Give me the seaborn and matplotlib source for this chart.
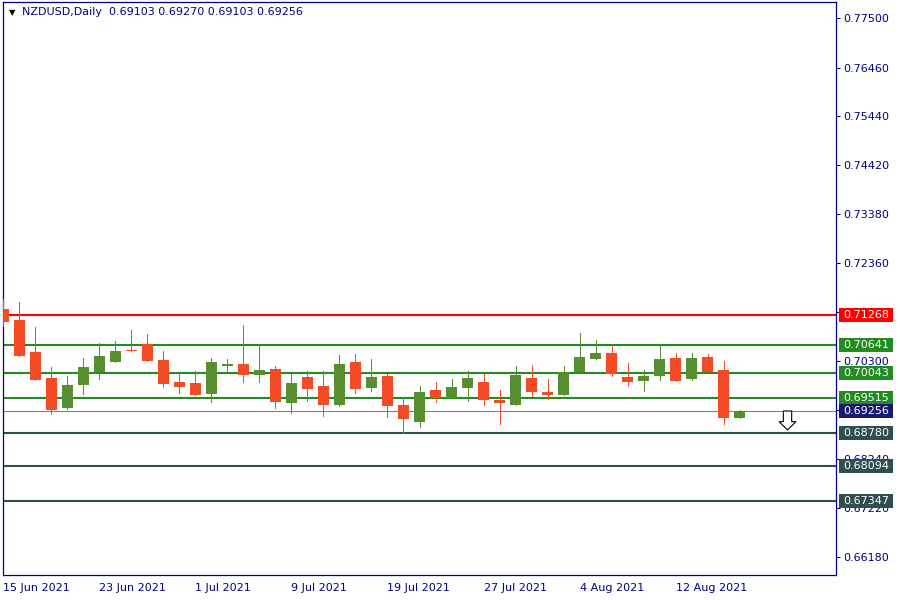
import matplotlib
matplotlib.use('Agg')
import matplotlib.pyplot as plt
from matplotlib.patches import Rectangle
import pandas as pd
import seaborn as sns

# daily NZDUSD candles, 15 Jun - 18 Aug 2021 (weekdays)
dates = pd.bdate_range('2021-06-15', '2021-08-18')

opens = [0.71389, 0.71158, 0.70486, 0.69940, 0.69317, 0.69799, 0.70060, 0.70282, 0.70534, 0.70654,
         0.70318, 0.69856, 0.69835, 0.69610, 0.70198, 0.70234, 0.70009, 0.70129, 0.69421, 0.69961,
         0.69772, 0.69379, 0.70276, 0.69736, 0.69982, 0.69373, 0.69022, 0.69688, 0.69526, 0.69736,
         0.69856, 0.69478, 0.69379, 0.69940, 0.69646, 0.69589, 0.70066, 0.70339, 0.70465, 0.69961,
         0.69883, 0.69988, 0.70360, 0.69925, 0.70381, 0.70108, 0.69103]
highs = [0.71599, 0.71536, 0.71011, 0.70171, 0.69982, 0.70360, 0.70675, 0.70717, 0.70948, 0.70864,
         0.70507, 0.70066, 0.70087, 0.70360, 0.70339, 0.71059, 0.70633, 0.70192, 0.70045, 0.70087,
         0.70087, 0.70423, 0.70444, 0.70339, 0.70024, 0.69535, 0.69772, 0.69856, 0.69919, 0.70087,
         0.70045, 0.69688, 0.70192, 0.70213, 0.69919, 0.70192, 0.70885, 0.70738, 0.70633, 0.70255,
         0.70108, 0.70633, 0.70465, 0.70465, 0.70444, 0.70297, 0.69270]
lows = [0.71038, 0.70400, 0.69895, 0.69190, 0.69296, 0.69611, 0.69925, 0.70280, 0.70510, 0.70300,
        0.69757, 0.69631, 0.69580, 0.69442, 0.70066, 0.69862, 0.69862, 0.69316, 0.69211, 0.69463,
        0.69148, 0.69358, 0.69631, 0.69673, 0.69127, 0.68791, 0.68917, 0.69442, 0.69520, 0.69463,
        0.69379, 0.68981, 0.69370, 0.69568, 0.69505, 0.69580, 0.70060, 0.70330, 0.69988, 0.69778,
        0.69673, 0.69904, 0.69880, 0.69904, 0.70070, 0.68981, 0.69103]
closes = [0.71122, 0.70409, 0.69904, 0.69274, 0.69793, 0.70171, 0.70402, 0.70507, 0.70513, 0.70303,
          0.69820, 0.69757, 0.69589, 0.70276, 0.70234, 0.70009, 0.70108, 0.69442, 0.69835, 0.69715,
          0.69379, 0.70234, 0.69715, 0.69961, 0.69358, 0.69085, 0.69646, 0.69526, 0.69751, 0.69940,
          0.69484, 0.69421, 0.70003, 0.69652, 0.69589, 0.70066, 0.70381, 0.70465, 0.70030, 0.69862,
          0.69982, 0.70339, 0.69883, 0.70360, 0.70072, 0.69106, 0.69256]

# horizontal levels drawn on the chart
levels = [0.71268, 0.70641, 0.70043, 0.69515, 0.69256, 0.68780, 0.68094, 0.67347]
line_colors = ['#ff0000', '#228b22', '#228b22', '#228b22', '#808080', '#2f4f4f', '#2f4f4f', '#2f4f4f']
box_colors = ['#ff0000', '#228b22', '#228b22', '#228b22', '#191970', '#2f4f4f', '#2f4f4f', '#2f4f4f']
line_widths = [1.5, 1.5, 1.5, 1.5, 0.8, 1.5, 1.5, 1.5]

price_ticks = [0.77500, 0.76460, 0.75440, 0.74420, 0.73380, 0.72360, 0.71320,
               0.70300, 0.69260, 0.68240, 0.67220, 0.66180]
date_ticks = ['2021-06-15', '2021-06-23', '2021-07-01', '2021-07-09',
              '2021-07-19', '2021-07-27', '2021-08-04', '2021-08-12']

# sell signal arrow (bar index, top / bottom price)
signal_x = 49
signal_top = 0.69247
signal_bottom = 0.68848

bull = '#568e30'
bear = '#f24b25'
navy = '#000080'

df = pd.DataFrame({'date': dates, 'open': opens, 'high': highs, 'low': lows, 'close': closes})
df['idx'] = range(len(df))
df['up'] = df['close'] >= df['open']
df['color'] = [bull if u else bear for u in df['up']]
df['body_low'] = df[['open', 'close']].min(axis=1)
df['body_h'] = (df['close'] - df['open']).abs().clip(lower=0.00021)

sns.set_style('white')
plt.rcParams['font.family'] = ['DejaVu Sans']

fig = plt.figure(figsize=(9, 6), dpi=100)
ax = fig.add_axes([3 / 900, 25 / 600, 833 / 900, 573 / 600])

ax.set_xlim(-0.03, 52.03)
ax.set_ylim(0.658032, 0.778360)

# levels
for lvl, col, lw in zip(levels, line_colors, line_widths):
    ax.axhline(lvl, color=col, linewidth=lw, zorder=1)

# candles
ax.vlines(df['idx'], df['low'], df['high'], colors=df['color'], linewidth=0.72,
          antialiased=False, zorder=3)
ax.bar(df['idx'], df['body_h'], bottom=df['body_low'], width=0.69,
       color=df['color'], linewidth=0, antialiased=False, zorder=4)

# signal arrow
ax.annotate('', xy=(signal_x, signal_bottom), xytext=(signal_x, signal_top),
            arrowprops=dict(arrowstyle='simple,head_length=0.6,head_width=1.2,tail_width=0.6',
                            fc='white', ec='black', lw=0.8, mutation_scale=10,
                            shrinkA=0, shrinkB=0), zorder=5)

# axes styling
for side in ['left', 'right', 'top', 'bottom']:
    ax.spines[side].set_visible(True)
    ax.spines[side].set_color(navy)
    ax.spines[side].set_linewidth(0.9)

ax.yaxis.tick_right()
ax.set_yticks(price_ticks)
ax.set_yticklabels([f'{t:.5f}' for t in price_ticks])
tick_idx = [dates.get_loc(pd.Timestamp(d)) for d in date_ticks]
ax.set_xticks(tick_idx)
ax.set_xticklabels([pd.Timestamp(d).strftime('%-d %b %Y') for d in date_ticks])
for lbl in ax.get_xticklabels():
    lbl.set_horizontalalignment('left')
ax.tick_params(axis='both', direction='out', length=3, width=0.8, color=navy,
               labelcolor=navy, labelsize=8)
ax.tick_params(axis='y', pad=2.5)
ax.tick_params(axis='x', pad=3)
ax.grid(False)

# price labels on the right axis (they cover some tick labels, as in MT4)
trans = ax.get_yaxis_transform()
box_h = 14 / 4762
for lvl, col in zip(levels, box_colors):
    ax.add_patch(Rectangle((1.0032, lvl - box_h / 2), 54 / 833, box_h, transform=trans,
                           facecolor=col, edgecolor='none', clip_on=False, zorder=6))
    ax.text(1.0085, lvl, f'{lvl:.5f}', transform=trans, color='white', fontsize=8,
            va='center', ha='left', clip_on=False, zorder=7)

# header
last = df.iloc[-1]
ax.text(6 / 833, 0.982, '\u25bc', transform=ax.transAxes, color='black', fontsize=6,
        va='center', ha='left')
ax.text(19 / 833, 0.982,
        f"NZDUSD,Daily  {last['open']:.5f} {last['high']:.5f} {last['low']:.5f} {last['close']:.5f}",
        transform=ax.transAxes, color=navy, fontsize=8, va='center', ha='left')

fig.savefig('out.png', dpi=100, facecolor='white')
